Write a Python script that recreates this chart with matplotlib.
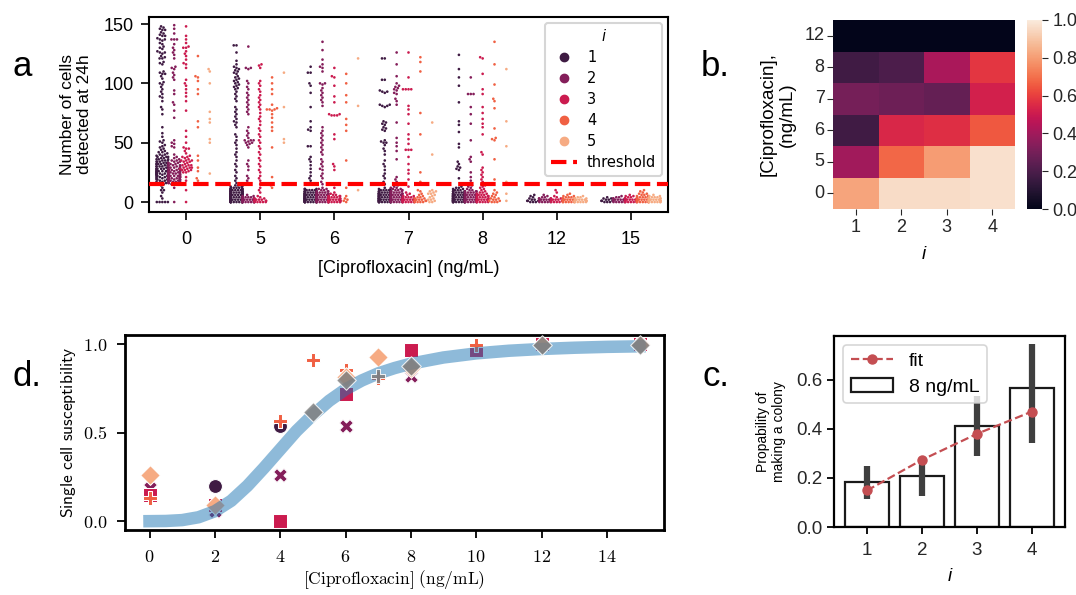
import warnings
warnings.filterwarnings("ignore")
import numpy as np
import pandas as pd
import matplotlib
matplotlib.use("Agg")
import matplotlib.pyplot as plt
import seaborn as sns
from matplotlib.lines import Line2D
from matplotlib.patches import Patch
from matplotlib.ticker import FuncFormatter

# ======================= DATA =======================
# ---- panel a : number of cells detected at 24h ----
conc_a = ['0', '5', '6', '7', '8', '12', '15']
i_levels = ['1', '2', '3', '4', '5']
threshold = 15
# For each concentration: per i (1..5) a list of scattered values,
# and dense counts (counts[k] = number of cells with value k)
a0_sparse = [
    [148,147,146,145,145,143,142,141,140,140,138,137,137,136,134,133,131,130,129,127,126,126,
     125,123,122,121,121,118,117,116,110,109,108,108,106,104,101,100,99,97,95,93,91,89,88,85,
     80,78,74,63,58,55,52,51,50,48,47],
    [149,146,142,137,137,137,133,130,128,126,124,121,114,113,112,109,107,105,103,94,91,84,82,
     77,71,52,50,49,47,46,40],
    [148,140,137,134,131,130,130,127,125,123,120,117,116,113,103,100,98,95,92,89,85,77,60,55,
     50,46,45,45,38,35,31,29,27,25,21,18,10,0],
    [123,106,105,102,95,91,68,63,39,35,29,26,20,18,15],
    [112,110,100,76,70,67,53,50,24],
]
a0_counts = [
    [5,0,0,1,0,1,0,0,1,0,2,0,1,0,1,2,2,3,3,3,4,4,4,5,5,5,5,5,5,4,4,4,4,3,3,3,3,2,3,2,2,1,2,1,1,1,1],
    [1,0,0,0,0,0,0,0,0,0,0,0,1,0,0,3,4,4,4,5,5,5,5,4,4,4,4,3,3,3,3,3,2,2,2,2,1,1,1],
    [0,0,0,0,0,0,0,0,0,0,0,0,0,0,0,0,0,0,0,0,0,0,0,0,0,1,1,2,2,2,1,2,1,1,2,2,1,1,1,1,0,1,0,1],
    [],
    [],
]
a5_sparse = [
    [132,132,126,119,116,114,113,112,111,110,109,108,106,105,104,103,102,101,100,99,98,97,96,95,
     93,91,89,87,85,80,78,76,74,72,70,68,67,65,63,57,55,52,50,48,45,42,40,38,35,32,30,27,25,22,
     20,18,16],
    [131,113,113,112,102,100,97,95,92,90,88,86,84,82,80,78,76,74,63,60,58,56,54,52,52,52,51,50,
     50,49,48,46,35,32,30,27,22,20,18,16],
    [116,115,113,102,100,98,95,93,90,88,86,84,82,80,78,75,72,70,68,65,62,60,57,55,52,50,47,45,42,
     40,37,35,32,30,27,25,22,20,18,15,12,10,8],
    [105,100,95,91,82,79,78,78,78,77,74,71,67,63,60,46,21,14,12],
    [109,80,53,50],
]
a5_counts = [
    [14,13,12,11,11,10,10,9,9,8,7,6,4,3,2],
    [10,9,8,6,4,2,1],
    [5,4,3,2,1,1],
    [],
    [],
]
a6_sparse = [
    [114,109,109,100,98,92,80,68,63,61,60,47,47,38,36,34,31,28,25,22,20,18],
    [135,128,120,116,114,113,110,100,100,99,96,94,92,90,88,86,84,81,63,60,58,56,54,52,50,48,46,
     44,42,40,36,34,32,30,28,27,24,22,20,17,15],
    [113,106,105,98,89,84,74,74,73,73,73,57,53,32,30,27,15,12],
    [108,100,90,84,70,65,60,35,12,5,3,2,1,0],
    [121,81,10],
]
a6_counts = [
    [12,11,11,10,10,9,9,8,7,6,4,3],
    [9,9,8,8,7,6,6,5,4,3,2,2,1],
    [8,7,6,5,4,3,2,1,1],
    [],
    [],
]
a7_sparse = [
    [121,121,103,103,94,93,93,92,82,82,81,81,80,68,67,66,65,63,62,61,60,52,51,50,50,48,45,43,40,
     35,32,30,27,24,22,20,17,15],
    [126,116,106,100,98,97,96,95,94,92,91,87,85,82,67,54,50,47,43,36,21,19,17,15],
    [126,105,95,95,95,95,81,78,74,66,57,53,49,44,44,44,38,32,27,24,19,13],
    [122,118,110,75,57,25,17],
    [67,40],
]
a7_counts = [
    [11,10,10,9,9,8,8,7,6,5,4,2,1],
    [7,7,7,6,6,5,5,4,4,3,3,2,2,1,1,1],
    [7,6,5,4,3,2,1,1,1],
    [4,3,3,2,2,1,1,1,0,1,1],
    [2,1,2,1,1,1,1,2,1,2,1],
]
a8_sparse = [
    [124,112,105,98,84,68,65,59,49,46,34,32,30,29,28,27,20],
    [105,91,91,91,80,74,66,52,38,36,34,25,21,18,15],
    [122,121,108,95,91,80,75,70,66,63,57,42,40,29,27,25,23,21,19,17,15,14,13],
    [135,116,99,87,85,79,62,54,53,52,36,19],
    [112,68,47,17,7,1],
]
a8_counts = [
    [10,10,9,9,8,8,7,6,5,4,3,2,2,1],
    [8,7,7,6,6,5,5,4,4,3,2,1,1,1,1],
    [6,5,5,4,4,3,3,2,2,1,1,1,1],
    [3,2,2,2,1,1,1,1,1,0,1],
    [],
]
a12_sparse = [[6], [], [10], [], []]
a12_counts = [
    [3,3,2,1,1,1],
    [5,4,4,3,2,1,1],
    [4,3,3,2,1,1,0,0,1],
    [6,5,4,4,3,2,1,1],
    [6,5,4,3,2,1],
]
a15_sparse = [[], [], [], [], []]
a15_counts = [
    [3,3,2,2,1],
    [5,4,4,3,2,1],
    [6,5,4,3,2,2,1],
    [7,6,5,5,4,3,2,2,1,1,1],
    [7,6,5,4,3,2,1],
]

# ---- panel b : heatmap ----
b_rows = ['12', '8', '7', '6', '5', '0']
b_cols = [1, 2, 3, 4]
b_vals = [[0.00, 0.00, 0.00, 0.00],
          [0.17, 0.20, 0.42, 0.58],
          [0.30, 0.28, 0.26, 0.52],
          [0.17, 0.54, 0.56, 0.65],
          [0.40, 0.68, 0.80, 0.97],
          [0.82, 0.96, 0.96, 0.97]]

# ---- panel c : probability of making a colony at 8 ng/mL ----
c_i = [1, 2, 3, 4]
c_bar = [0.182, 0.21, 0.411, 0.566]
c_err_lo = [0.113, 0.125, 0.29, 0.342]
c_err_hi = [0.249, 0.262, 0.535, 0.747]
c_fit = [0.149, 0.274, 0.38, 0.471]

# ---- panel d : single cell susceptibility ----
d_i1_x = [0, 2, 4, 6, 8, 10, 12, 15]
d_i1_y = [0.16, 0.20, 0.535, 0.726, 0.969, 0.96, 1.0, 1.0]
d_i2_x = [0, 2, 4, 6, 8, 10, 12, 15]
d_i2_y = [0.187, 0.06, 0.263, 0.536, 0.82, 0.96, 1.0, 1.0]
d_i3_x = [0, 2, 4, 6, 8, 10, 12, 15]
d_i3_y = [0.15, 0.09, 0.0, 0.719, 0.969, 0.97, 1.0, 1.0]
d_i4_x = [0, 2, 4, 5, 6, 7, 10, 12, 15]
d_i4_y = [0.131, 0.095, 0.568, 0.913, 0.853, 0.81, 0.993, 1.0, 1.0]
d_i5_x = [0, 2, 6, 7, 8, 12, 15]
d_i5_y = [0.263, 0.09, 0.812, 0.927, 0.868, 0.998, 1.0]
d_all_x = [5, 6, 7, 8, 12, 15]
d_all_y = [0.617, 0.797, 0.82, 0.875, 0.998, 0.998]
d_all_marker = ['D', 'D', 'P', 'D', 'D', 'D']
d_curve_x = [0, 0.5, 1, 1.5, 2, 2.5, 3, 3.5, 4, 4.5, 5, 5.5, 6, 6.5, 7, 7.5, 8, 9, 10, 11, 12, 13, 14, 15]
d_curve_y = [0.0, 0.001, 0.006, 0.022, 0.056, 0.115, 0.2, 0.3, 0.405, 0.51, 0.6, 0.68, 0.745,
             0.795, 0.835, 0.865, 0.89, 0.925, 0.948, 0.963, 0.973, 0.98, 0.985, 0.988]

# ======================= FIGURE =======================
plt.rcParams['font.family'] = ['Liberation Sans', 'DejaVu Sans']
plt.rcParams['mathtext.fontset'] = 'cm'
pal = sns.color_palette('rocket', 5)

fig = plt.figure(figsize=(10.76, 5.95), dpi=100)
W, H = 1076.0, 595.0
def rect(l, t, r, b):
    return [l / W, 1 - b / H, (r - l) / W, (b - t) / H]

# ---------------- panel a ----------------
axa = fig.add_axes(rect(149, 17, 668, 212))
sparse_all = [a0_sparse, a5_sparse, a6_sparse, a7_sparse, a8_sparse, a12_sparse, a15_sparse]
counts_all = [a0_counts, a5_counts, a6_counts, a7_counts, a8_counts, a12_counts, a15_counts]
rows = []
for c, sp, ct in zip(conc_a, sparse_all, counts_all):
    for k, lev in enumerate(i_levels):
        vals = list(sp[k]) + list(np.repeat(np.arange(len(ct[k])), ct[k]))
        for v in vals:
            rows.append((c, lev, float(v)))
df_a = pd.DataFrame(rows, columns=['conc', 'i', 'n'])
n_before = len(axa.collections)
sns.swarmplot(data=df_a, x='conc', y='n', hue='i', order=conc_a, hue_order=i_levels,
              palette=pal, dodge=True, size=1.9, linewidth=0, ax=axa, legend=False)
axa.axhline(threshold, color='red', ls='--', lw=3, zorder=5)
axa.set_xlim(-0.5, 6.5)
axa.set_ylim(-8.4, 155.9)
axa.set_yticks([0, 50, 100, 150])
axa.tick_params(labelsize=13, length=5.5, width=1.2, colors='black')
axa.tick_params(axis='x', pad=8)
axa.tick_params(axis='y', pad=5.5)
axa.set_xlabel('[Ciprofloxacin] (ng/mL)', fontsize=13, labelpad=9)
axa.set_ylabel('Number of cells\ndetected at 24h', fontsize=12.5, labelpad=8)
for s in axa.spines.values():
    s.set_linewidth(1.5)

# swarm once, then keep points inside each hue band (classic seaborn gutters)
fig.canvas.draw()
band_half = 0.8 / 5 / 2 * 0.98
band_centers = np.array([ci + (k - 2) * 0.16 for ci in range(7) for k in range(5)])
for coll in axa.collections[n_before:]:
    if 'draw' in coll.__dict__:
        del coll.draw
    off = np.asarray(coll.get_offsets(), dtype=float)
    if off.size == 0:
        continue
    ctr = band_centers[np.argmin(np.abs(band_centers - np.median(off[:, 0])))]
    off[:, 0] = np.clip(off[:, 0], ctr - band_half, ctr + band_half)
    coll.set_offsets(off)

handles = [Line2D([], [], marker='o', ls='none', color=pal[k], markersize=6) for k in range(5)]
handles.append(Line2D([], [], color='red', ls='--', lw=3))
leg = axa.legend(handles, i_levels + ['threshold'], loc='upper right', title='i',
                 prop={'family': 'DejaVu Sans', 'size': 10.5}, borderaxespad=0.4,
                 handlelength=1.8, handletextpad=0.7, borderpad=0.4, labelspacing=0.42)
leg.get_title().set_fontstyle('italic')
leg.get_title().set_fontfamily('DejaVu Sans')
leg.get_title().set_fontsize(10.5)
leg.get_frame().set_linewidth(1.5)

# ---------------- panel b ----------------
axb = fig.add_axes(rect(833, 20, 1015, 209))
cax = fig.add_axes(rect(1027, 20, 1042, 209))
sns.heatmap(np.array(b_vals), cmap='rocket', vmin=0, vmax=1, ax=axb, cbar_ax=cax,
            xticklabels=b_cols, yticklabels=b_rows)
axb.tick_params(labelsize=13, length=4, color='#262626', labelcolor='#262626')
axb.tick_params(axis='y', pad=2)
axb.set_yticklabels(b_rows, rotation=0)
axb.set_xlabel('i', fontsize=13.5, fontstyle='italic', labelpad=7)
axb.set_ylabel('[Ciprofloxacin],\n(ng/mL)', fontsize=13.5, labelpad=6)
cax.tick_params(labelsize=13, length=4, color='#262626', labelcolor='#262626')
cax.set_yticks([0, 0.2, 0.4, 0.6, 0.8, 1.0])
cax.set_yticklabels(['0.0', '0.2', '0.4', '0.6', '0.8', '1.0'])

# ---------------- panel d ----------------
axd = fig.add_axes(rect(125, 335, 664, 530))
markers = ['o', 'X', 's', 'P', 'D']
dx = [d_i1_x, d_i2_x, d_i3_x, d_i4_x, d_i5_x]
dy = [d_i1_y, d_i2_y, d_i3_y, d_i4_y, d_i5_y]
for k in range(5):
    axd.scatter(dx[k], dy[k], s=100, marker=markers[k], color=pal[k], edgecolor='white',
                linewidth=0.75, zorder=2)
axd.plot(d_curve_x, d_curve_y, color='#1f77b4', alpha=0.5, lw=9, zorder=3)
for x, y, m in zip(d_all_x, d_all_y, d_all_marker):
    axd.scatter([x], [y], s=100, marker=m, color='gray', alpha=0.85, edgecolor='white',
                linewidth=0.75, zorder=4)
axd.set_xlim(-0.75, 15.75)
axd.set_ylim(-0.05, 1.052)
axd.set_xticks(range(0, 15, 2))
axd.set_yticks([0, 0.5, 1.0])
axd.xaxis.set_major_formatter(FuncFormatter(lambda v, p: r'$%d$' % v))
axd.yaxis.set_major_formatter(FuncFormatter(lambda v, p: r'$%.1f$' % v))
axd.tick_params(labelsize=13, length=6, width=1.3, colors='black')
axd.tick_params(axis='x', pad=8)
axd.tick_params(axis='y', pad=6.5)
axd.set_xlabel(r'$\mathrm{[Ciprofloxacin]\ (ng/mL)}$', fontsize=12.5, labelpad=1)
axd.set_ylabel(r'$\mathsf{Single\ cell\ susceptibility}$', fontsize=12.5, labelpad=4)
for s in axd.spines.values():
    s.set_linewidth(2)

# ---------------- panel c ----------------
axc = fig.add_axes(rect(834, 336, 1065, 527))
axc.bar(c_i, c_bar, width=0.8, facecolor='white', edgecolor='#1a1a1a', lw=1.6, zorder=1)
axc.vlines(c_i, c_err_lo, c_err_hi, color='#3f3f3f', lw=4.5, zorder=2)
axc.plot(c_i, c_fit, ls='--', marker='o', color='#c44e52', ms=6.5, lw=1.6, zorder=3)
axc.set_xlim(0.4, 4.6)
axc.set_ylim(0, 0.779)
axc.set_xticks(c_i)
axc.set_yticks([0, 0.2, 0.4, 0.6])
axc.set_yticklabels(['0.0', '0.2', '0.4', '0.6'])
axc.tick_params(labelsize=13.5, length=5, width=1.3, color='black', labelcolor='#262626')
axc.tick_params(axis='x', pad=6)
axc.set_xlabel('i', fontsize=13.5, fontstyle='italic', labelpad=6)
axc.set_ylabel('Propability of\nmaking a colony', fontsize=10, labelpad=7)
for s in axc.spines.values():
    s.set_linewidth(1.6)
h_fit = Line2D([], [], ls='--', marker='o', color='#c44e52', ms=6.5, lw=1.6)
h_bar = Patch(facecolor='white', edgecolor='#1a1a1a', lw=1.6)
lc = axc.legend([h_fit, h_bar], ['fit', '8 ng/mL'], loc='upper left', fontsize=14,
                borderaxespad=0.45, handlelength=2.2, labelspacing=0.4)
lc.get_frame().set_linewidth(1.2)

# ---------------- panel labels ----------------
fig.text(12 / W, 1 - 76 / H, 'a', fontsize=25)
fig.text(701 / W, 1 - 76 / H, 'b.', fontsize=25)
fig.text(12 / W, 1 - 386 / H, 'd.', fontsize=25)
fig.text(703 / W, 1 - 386 / H, 'c.', fontsize=25)

fig.savefig('out.png', dpi=100)
